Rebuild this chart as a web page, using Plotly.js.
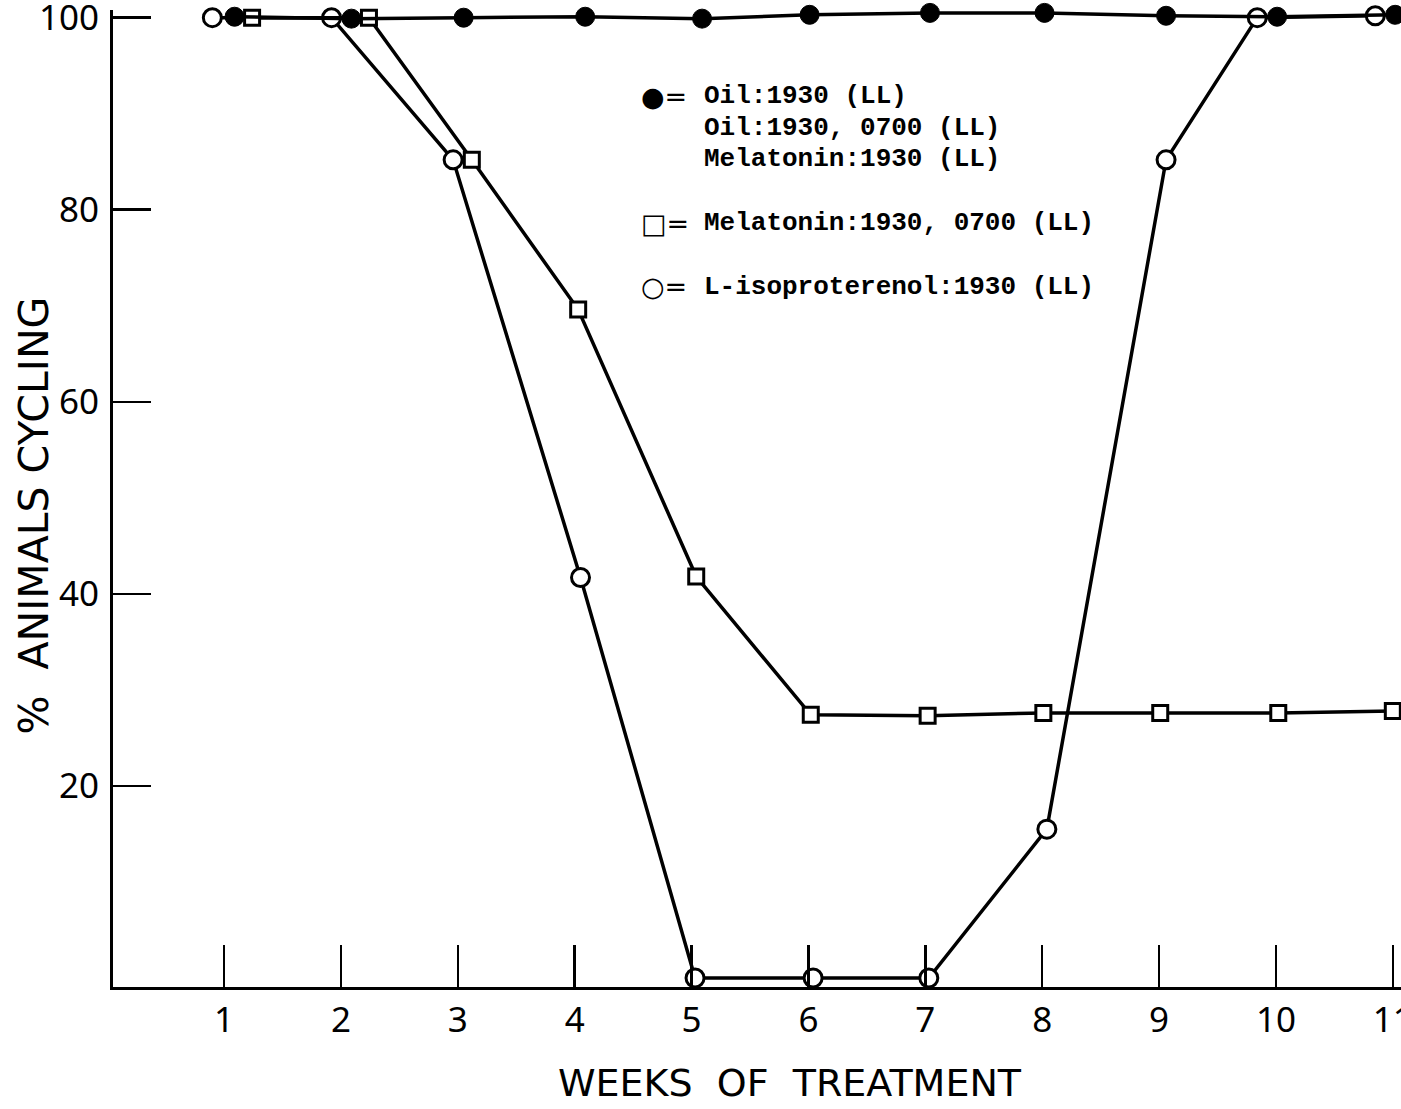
<!DOCTYPE html>
<html>
<head>
<meta charset="utf-8">
<script src="https://cdn.plot.ly/plotly-3.0.1.min.js"></script>
<style>html,body{margin:0;padding:0;background:#fff;}#chart{width:1401px;height:1109px;}</style>
</head>
<body>
<div id="chart"></div>
<script>
// Weeks of treatment (x) and % animals cycling (y)
const weeksOil = [1.09, 2.09, 3.05, 4.09, 5.09, 6.01, 7.04, 8.02, 9.06, 10.01, 11.02];
const pctOil   = [100.1, 99.9, 100.0, 100.1, 99.9, 100.3, 100.5, 100.5, 100.2, 100.1, 100.3];

const weeksMel = [1.24, 2.24, 3.12, 4.03, 5.04, 6.02, 7.02, 8.01, 9.01, 10.02, 11.0];
const pctMel   = [100, 100, 85.2, 69.6, 41.8, 27.4, 27.3, 27.6, 27.6, 27.6, 27.8];

const weeksIso = [0.90, 1.92, 2.96, 4.05, 5.03, 6.04, 7.03, 8.04, 9.06, 9.84, 10.85];
const pctIso   = [100, 100, 85.2, 41.7, 0, 0, 0, 15.5, 85.2, 100, 100.2];

const xTicks = [1, 2, 3, 4, 5, 6, 7, 8, 9, 10, 11];
const yTicks = [20, 40, 60, 80, 100];

const xTitle = 'WEEKS\u00A0\u00A0OF\u00A0\u00A0TREATMENT';
const yTitle = '%\u00A0\u00A0ANIMALS\u00A0CYCLING';

const legendSymbols = ['\u25CF=', '\u25A1=', '\u25CB='];
const legendLines = [
  'Oil:1930 (LL)',
  'Oil:1930, 0700 (LL)',
  'Melatonin:1930 (LL)',
  'Melatonin:1930, 0700 (LL)',
  'L-isoproterenol:1930 (LL)'
];

const lineStyle = {color: '#000', width: 3.5};

const traces = [
  {x: weeksIso, y: pctIso, mode: 'lines+markers', name: 'L-isoproterenol:1930 (LL)',
   line: lineStyle,
   marker: {symbol: 'circle', size: 18, color: '#fff', line: {color: '#000', width: 3}},
   cliponaxis: false},
  {x: weeksMel, y: pctMel, mode: 'lines+markers', name: 'Melatonin:1930, 0700 (LL)',
   line: lineStyle,
   marker: {symbol: 'square', size: 15, color: '#fff', line: {color: '#000', width: 3}},
   cliponaxis: false},
  {x: weeksOil, y: pctOil, mode: 'lines+markers', name: 'Oil / Melatonin:1930 (LL)',
   line: lineStyle,
   marker: {symbol: 'circle', size: 19, color: '#000', line: {color: '#000', width: 1}},
   cliponaxis: false}
];

const textFont = {family: 'Liberation Mono, Courier New, monospace', size: 26, color: '#000', weight: 'bold'};
const symFont = {family: 'DejaVu Sans, sans-serif', size: 27, color: '#000'};

const legendY = [91.8, 88.5, 85.3, 78.6, 72.0];
const symbolRows = [0, 3, 4];
const annotations = [];
legendLines.forEach((t, i) => {
  annotations.push({x: 5.09, y: legendY[i], xref: 'x', yref: 'y', text: t, showarrow: false,
    xanchor: 'left', yanchor: 'middle', font: textFont});
});
legendSymbols.forEach((s, i) => {
  annotations.push({x: 4.55, y: legendY[symbolRows[i]], xref: 'x', yref: 'y', text: s, showarrow: false,
    xanchor: 'left', yanchor: 'middle', font: symFont});
});
// axis titles, placed where the reference puts them
annotations.push({x: 0.526, y: -0.098, xref: 'paper', yref: 'paper', text: xTitle, showarrow: false,
  xanchor: 'center', yanchor: 'middle', font: {family: 'DejaVu Sans, sans-serif', size: 38, color: '#000'}});
annotations.push({x: -0.061, y: 0.483, xref: 'paper', yref: 'paper', text: yTitle, showarrow: false,
  textangle: -90, xanchor: 'center', yanchor: 'middle', font: {family: 'DejaVu Sans, sans-serif', size: 41, color: '#000'}});

const tickFont = {family: 'Noto Sans, DejaVu Sans, sans-serif', size: 35, color: '#000'};

const layout = {
  width: 1401, height: 1109,
  margin: {l: 113, r: 0, t: 10, b: 122, pad: 0},
  paper_bgcolor: '#fff', plot_bgcolor: '#fff',
  showlegend: false,
  xaxis: {
    range: [0.05, 11.07],
    tickvals: xTicks, ticktext: xTicks.map(String),
    ticks: 'inside', ticklen: 42, tickwidth: 2.5, tickcolor: '#000',
    showline: true, linecolor: '#000', linewidth: 3,
    showgrid: false, zeroline: false, automargin: false,
    tickfont: tickFont, ticklabelstandoff: 0, ticklabeloverflow: 'allow'
  },
  yaxis: {
    range: [-0.94, 100.8],
    tickvals: yTicks, ticktext: yTicks.map(String),
    ticks: 'inside', ticklen: 38, tickwidth: 2.5, tickcolor: '#000',
    showline: true, linecolor: '#000', linewidth: 3,
    showgrid: false, zeroline: false, automargin: false,
    tickfont: tickFont, ticklabelstandoff: 4, ticklabeloverflow: 'allow'
  },
  annotations: annotations
};

Plotly.newPlot('chart', traces, layout, {displayModeBar: false, staticPlot: true});
</script>
</body>
</html>
